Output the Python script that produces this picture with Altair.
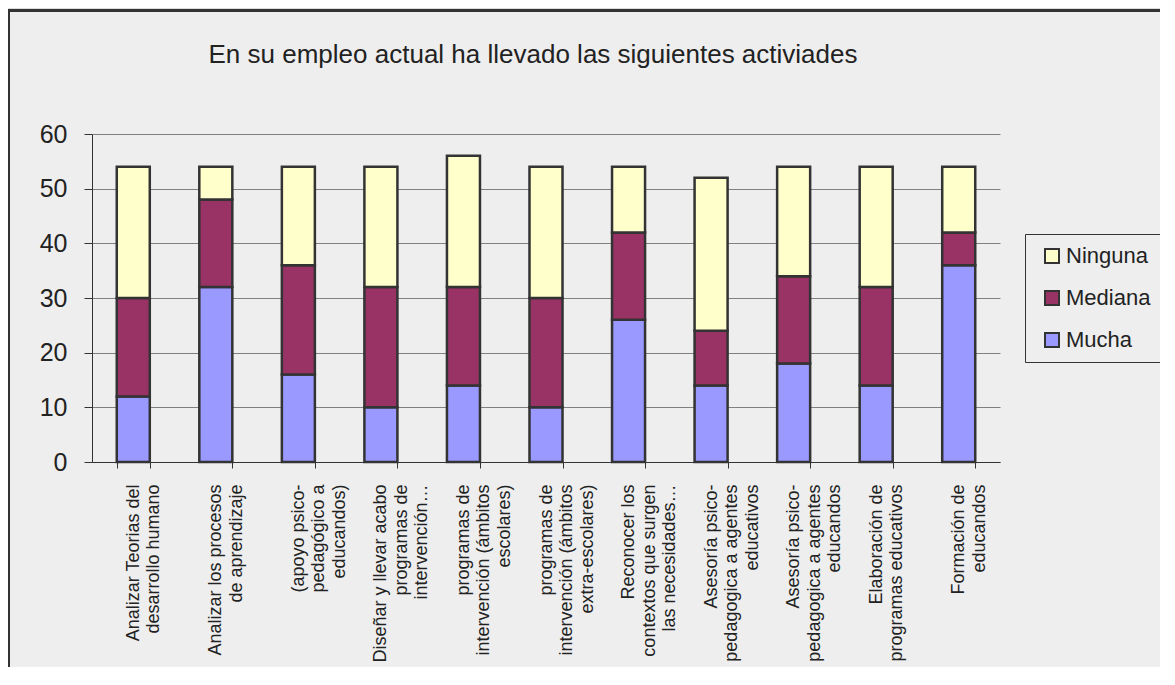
import altair as alt
import pandas as pd

title_text = "En su empleo actual ha llevado las siguientes activiades"

categories = [
    "Analizar Teorias del\ndesarrollo humano",
    "Analizar los procesos\nde aprendizaje",
    "(apoyo psico-\npedagógico a\neducandos)",
    "Diseñar y llevar acabo\nprogramas de\nintervención…",
    "programas de\nintervención (ámbitos\nescolares)",
    "programas de\nintervención (ámbitos\nextra-escolares)",
    "Reconocer los\ncontextos que surgen\nlas necesidades…",
    "Asesoría psico-\npedagogica a agentes\neducativos",
    "Asesoría psico-\npedagogica a agentes\neducandos",
    "Elaboración de\nprogramas educativos",
    "Formación de\neducandos",
]
mucha = [12, 32, 16, 10, 14, 10, 26, 14, 18, 14, 36]
mediana = [18, 16, 20, 22, 18, 20, 16, 10, 16, 18, 6]
ninguna = [24, 6, 18, 22, 24, 24, 12, 28, 20, 22, 12]

series_names = ["Ninguna", "Mediana", "Mucha"]
series_colors = ["#ffffcc", "#993366", "#9999ff"]
stack_rank = {"Mucha": 0, "Mediana": 1, "Ninguna": 2}

rows = []
for name, vals in (("Mucha", mucha), ("Mediana", mediana), ("Ninguna", ninguna)):
    for c, v in zip(categories, vals):
        rows.append({"cat": c, "serie": name, "valor": v, "rank": stack_rank[name]})
df = pd.DataFrame(rows)

FONT = "Liberation Sans"

frame = alt.Chart(alt.Data(values=[{}])).mark_rect(
    fillOpacity=0, stroke="#333333", strokeWidth=3
).encode(
    x=alt.value(-83.5), x2=alt.value(1150), y=alt.value(-123.5), y2=alt.value(600)
)

top_strip = alt.Chart(alt.Data(values=[{}])).mark_rect(
    fill="#dcdcdc"
).encode(
    x=alt.value(-84), x2=alt.value(1150), y=alt.value(-126), y2=alt.value(-125)
)

title = alt.Chart(alt.Data(values=[{}])).mark_text(
    text=title_text,
    font=FONT,
    fontSize=26,
    color="#222222",
    align="center",
    baseline="alphabetic",
).encode(x=alt.value(441), y=alt.value(-71.5))

bars = alt.Chart(df).mark_bar(stroke="#333333", strokeWidth=2.5).encode(
    x=alt.X(
        "cat:N",
        sort=categories,
        title=None,
        scale=alt.Scale(paddingInner=0.6, paddingOuter=0.3),
        axis=alt.Axis(
            labelExpr="split(datum.label, '\\n')",
            labelAngle=270,
            labelAlign="right",
            labelBaseline="middle",
            labelFontSize=18,
            labelLineHeight=20.5,
            labelPadding=16,
            labelLimit=400,
            labelOverlap=False,
            labelFont=FONT,
            labelColor="#222222",
            tickBand="extent",
            tickSize=6,
            tickColor="#333333",
            domainColor="#333333",
            grid=False,
        ),
    ),
    y=alt.Y(
        "valor:Q",
        stack="zero",
        title=None,
        scale=alt.Scale(domain=[0, 60], nice=False),
        axis=alt.Axis(
            values=[0, 10, 20, 30, 40, 50, 60],
            labelFontSize=25,
            labelFont=FONT,
            labelColor="#222222",
            labelPadding=17,
            tickSize=8,
            tickColor="#333333",
            domainColor="#333333",
            grid=True,
            gridColor="#808080",
            gridWidth=1,
        ),
    ),
    color=alt.Color(
        "serie:N",
        scale=alt.Scale(domain=series_names, range=series_colors),
        legend=alt.Legend(
            title=None,
            orient="none",
            legendX=933,
            legendY=100,
            symbolType="square",
            symbolSize=196,
            symbolStrokeWidth=2,
            symbolStrokeColor="#333333",
            symbolOpacity=1,
            symbolOffset=5,
            labelFontSize=22,
            labelFont=FONT,
            labelColor="#222222",
            labelOffset=3,
            rowPadding=20,
            padding=11,
            strokeColor="#333333",
            fillColor="#eeeeee",
        ),
    ),
    order=alt.Order("rank:Q", sort="ascending"),
)

chart = alt.layer(top_strip, frame, title, bars).properties(
    width=908,
    height=328,
    autosize=alt.AutoSizeParams(type="none"),
    padding={"left": 84, "top": 126, "right": 160, "bottom": 205},
).configure(background="#eeeeee").configure_view(strokeWidth=0)

chart.save("out.html", embed_options={"renderer": "svg", "actions": False})
